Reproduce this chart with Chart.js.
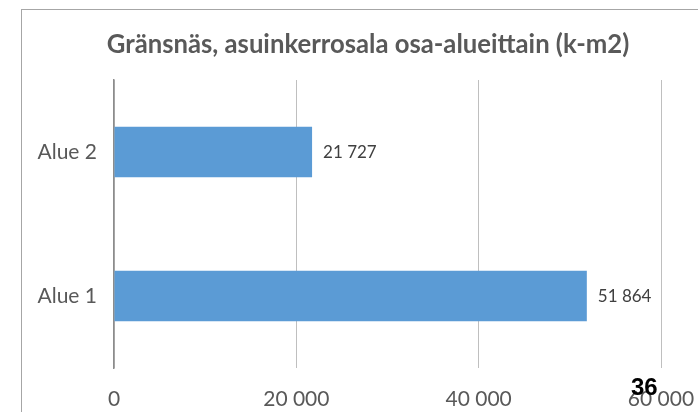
<!DOCTYPE html>
<html lang="fi">
<head>
  <meta charset="UTF-8" />
  <title>Gränsnäs, asuinkerrosala osa-alueittain</title>
  <script src="https://cdn.jsdelivr.net/npm/chart.js"></script>
  <style>
    html, body {
      margin: 0;
      padding: 0;
      width: 698px;
      height: 412px;
      overflow: hidden;
      background: #fff;
    }
    .kehys {
      position: absolute;
      left: 21px;
      top: 9px;
      width: 720px;
      height: 460px;
      border: 1px solid #a6a6a6;
    }
    #kaavio {
      position: absolute;
      left: 0;
      top: 0;
    }
    .sivu {
      position: absolute;
      left: 631px;
      top: 375px;
      font: bold 24px "Liberation Sans", Arial, sans-serif;
      line-height: 24px;
      color: #000;
    }
  </style>
</head>
<body>
  <div class="kehys"></div>
  <canvas id="kaavio" width="698" height="412"></canvas>
  <div class="sivu">36</div>
  <script>
    const otsikko = 'Gränsnäs, asuinkerrosala osa-alueittain (k-m2)';
    const alueet = ['Alue 2', 'Alue 1'];
    const kerrosala = [21727, 51864];
    const akseliMax = 60000;
    const akseliVali = 20000;

    const fontti = 'Lato, "Open Sans", sans-serif';

    // tuhaterotin välilyönnillä: 21 727
    function muotoile(n) {
      return String(Math.round(n)).replace(/\B(?=(\d{3})+(?!\d))/g, ' ');
    }

    // otsikko ja arvot palkkien perään
    const piirrot = {
      id: 'piirrot',
      afterDatasetsDraw(chart) {
        const ctx = chart.ctx;
        ctx.save();
        ctx.fillStyle = '#595959';
        ctx.font = 'bold 25.7px ' + fontti;
        ctx.textAlign = 'center';
        ctx.textBaseline = 'middle';
        ctx.fillText(otsikko, 368, 45);

        ctx.fillStyle = '#404040';
        ctx.font = '17px ' + fontti;
        ctx.textAlign = 'left';
        chart.getDatasetMeta(0).data.forEach((bar, i) => {
          ctx.fillText(muotoile(kerrosala[i]), bar.x + 11, bar.y + 1);
        });
        ctx.restore();
      }
    };

    new Chart(document.getElementById('kaavio'), {
      type: 'bar',
      data: {
        labels: alueet,
        datasets: [{
          data: kerrosala,
          backgroundColor: '#5b9bd5',
          borderWidth: 0,
          categoryPercentage: 1,
          barPercentage: 0.35
        }]
      },
      options: {
        indexAxis: 'y',
        responsive: false,
        animation: false,
        layout: { padding: { left: 0, right: 37, top: 80, bottom: 0 } },
        plugins: {
          legend: { display: false },
          tooltip: { enabled: false }
        },
        scales: {
          x: {
            min: 0,
            max: akseliMax,
            afterFit(scale) {
              scale.height = 44;
              scale.paddingLeft = 0;
              scale.paddingRight = 0;
            },
            grid: { color: '#bfbfbf', lineWidth: 1, drawTicks: false },
            border: { display: false },
            ticks: {
              stepSize: akseliVali,
              padding: 19,
              color: '#595959',
              font: { family: fontti, size: 21 },
              callback: v => muotoile(v)
            }
          },
          y: {
            afterFit(scale) { scale.width = 114; },
            grid: { display: false, drawTicks: false },
            border: { display: true, color: '#8c8c8c', width: 1.5 },
            ticks: {
              padding: 17,
              color: '#595959',
              font: { family: fontti, size: 21 }
            }
          }
        }
      },
      plugins: [piirrot]
    });
  </script>
</body>
</html>
